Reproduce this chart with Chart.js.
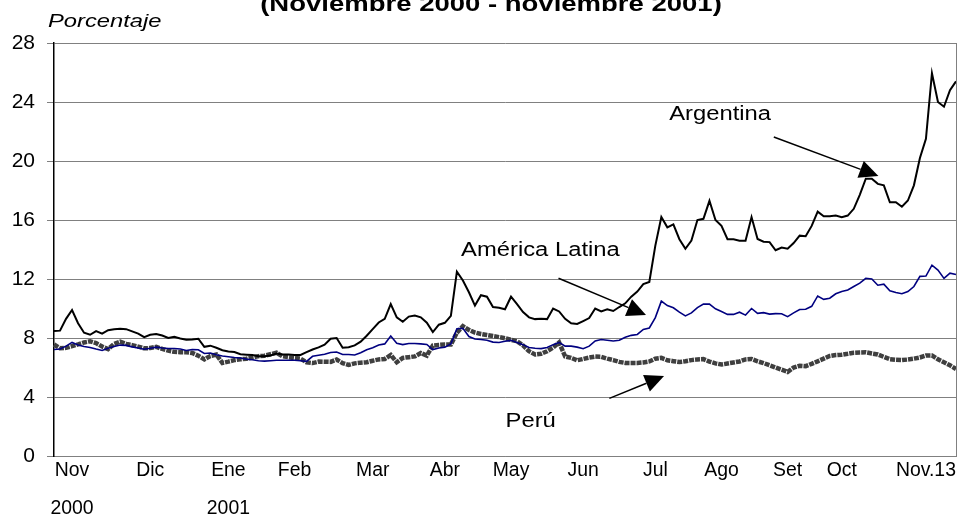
<!DOCTYPE html>
<html lang="es">
<head>
<meta charset="utf-8">
<title>Porcentaje (Noviembre 2000 - noviembre 2001)</title>
<script src="https://cdn.jsdelivr.net/npm/chart.js@4.4.0/dist/chart.umd.min.js"></script>
<style>
  html, body { margin: 0; padding: 0; background: #fff; }
  #wrap { position: relative; width: 961px; height: 526px; }
</style>
</head>
<body>
<div id="wrap"><canvas id="spreadChart"></canvas></div>
<script>
// Series diarias (lecturas del gráfico), en porcentaje
const argentina = [
  8.47, 8.5, 9.3, 9.9, 9.0, 8.36, 8.22, 8.47, 8.3, 8.53,
  8.6, 8.62, 8.6, 8.45, 8.3, 8.06, 8.22, 8.27, 8.17, 8.0,
  8.08, 7.97, 7.88, 7.9, 7.95, 7.4, 7.48, 7.34, 7.17, 7.09,
  7.05, 6.9, 6.87, 6.84, 6.76, 6.77, 6.82, 6.95, 6.88, 6.88,
  6.85, 6.85, 7.04, 7.22, 7.36, 7.55, 7.95, 8.0, 7.34, 7.37,
  7.5, 7.75, 8.15, 8.6, 9.05, 9.3, 10.3, 9.4, 9.1, 9.45,
  9.52, 9.4, 9.04, 8.4, 8.9, 9.03, 9.5, 12.5, 11.9, 11.1,
  10.2, 10.9, 10.8, 10.1, 10.05, 9.95, 10.8, 10.3, 9.76, 9.4,
  9.28, 9.3, 9.28, 10.0, 9.8, 9.3, 9.0, 8.95, 9.15, 9.35,
  10.0, 9.8, 9.95, 9.83, 10.1, 10.35, 10.8, 11.15, 11.65, 11.8,
  14.26, 16.2, 15.5, 15.7, 14.7, 14.05, 14.6, 16.0, 16.08, 17.3,
  16.0, 15.6, 14.7, 14.7, 14.6, 14.6, 16.2, 14.71, 14.53, 14.5,
  13.95, 14.13, 14.05, 14.44, 14.94, 14.9, 15.6, 16.57, 16.25, 16.25,
  16.3, 16.19, 16.3, 16.76, 17.71, 18.8, 18.8, 18.45, 18.35, 17.2,
  17.2, 16.9, 17.32, 18.35, 20.2, 21.5, 25.95, 24.0, 23.68, 24.8,
  25.4
];

const americaLatina = [
  7.22, 7.25, 7.45, 7.7, 7.52, 7.42, 7.36, 7.25, 7.15, 7.3,
  7.42, 7.52, 7.5, 7.4, 7.32, 7.24, 7.3, 7.38, 7.32, 7.29,
  7.29, 7.25, 7.15, 7.22, 7.2, 6.95, 6.98, 6.87, 6.78, 6.73,
  6.68, 6.64, 6.57, 6.52, 6.46, 6.43, 6.46, 6.49, 6.49, 6.49,
  6.49, 6.46, 6.42, 6.76, 6.83, 6.9, 7.02, 7.05, 6.88, 6.88,
  6.85, 7.0, 7.2, 7.34, 7.53, 7.6, 8.13, 7.65, 7.55, 7.63,
  7.63, 7.6, 7.56, 7.22, 7.32, 7.38, 7.6, 8.63, 8.66, 8.1,
  7.93, 7.9, 7.85, 7.72, 7.7, 7.78, 7.84, 7.7, 7.55, 7.36,
  7.3, 7.28, 7.36, 7.55, 7.7, 7.45, 7.45, 7.38, 7.27, 7.45,
  7.8, 7.9, 7.85, 7.8, 7.85, 8.05, 8.18, 8.24, 8.58, 8.68,
  9.38, 10.5, 10.2, 10.05, 9.75, 9.5, 9.7, 10.06, 10.3, 10.3,
  9.98, 9.8, 9.6, 9.6, 9.75, 9.55, 10.0, 9.67, 9.72, 9.62,
  9.65, 9.64, 9.45, 9.7, 9.93, 9.95, 10.15, 10.85, 10.62, 10.7,
  11.0, 11.15, 11.25, 11.49, 11.72, 12.05, 12.0, 11.58, 11.65, 11.2,
  11.08, 11.0, 11.15, 11.49, 12.18, 12.2, 12.94, 12.6, 12.04, 12.4,
  12.3
];

const peru = [
  7.56, 7.3, 7.33, 7.45, 7.57, 7.7, 7.78, 7.65, 7.42, 7.25,
  7.6, 7.75, 7.6, 7.52, 7.42, 7.3, 7.32, 7.4, 7.26, 7.14,
  7.06, 7.04, 7.04, 6.98, 6.8, 6.55, 6.78, 6.88, 6.31, 6.4,
  6.5, 6.56, 6.59, 6.68, 6.77, 6.8, 6.9, 7.0, 6.76, 6.7,
  6.64, 6.6, 6.35, 6.3, 6.4, 6.39, 6.38, 6.54, 6.3, 6.17,
  6.28, 6.33, 6.36, 6.46, 6.55, 6.58, 6.85, 6.36, 6.65, 6.7,
  6.75, 6.98, 6.81, 7.49, 7.53, 7.56, 7.56, 8.36, 8.8, 8.55,
  8.37, 8.27, 8.2, 8.13, 8.06, 7.98, 7.88, 7.78, 7.5, 7.1,
  6.88, 6.93, 7.1, 7.35, 7.7, 6.75, 6.65, 6.49, 6.58, 6.67,
  6.74, 6.72, 6.6, 6.5, 6.38, 6.31, 6.31, 6.31, 6.34, 6.41,
  6.6, 6.65, 6.49, 6.43, 6.37, 6.42, 6.5, 6.55, 6.57, 6.4,
  6.28, 6.2, 6.27, 6.34, 6.41, 6.55, 6.58, 6.42, 6.3, 6.15,
  6.0, 5.85, 5.7, 6.0, 6.12, 6.09, 6.25, 6.42, 6.6, 6.78,
  6.84, 6.87, 6.93, 7.0, 7.02, 7.03, 6.95, 6.88, 6.72, 6.56,
  6.52, 6.5, 6.54, 6.6, 6.68, 6.82, 6.82, 6.55, 6.35, 6.15,
  5.9
];

// Etiquetas de meses y la observación donde va cada una
const etiquetasMes = [['Nov', '2000'], ['Dic'], ['Ene', '2001'], ['Feb'], ['Mar'], ['Abr'],
  ['May'], ['Jun'], ['Jul'], ['Ago'], ['Set'], ['Oct'], ['Nov.13']];
const posMes = [3, 16, 29, 40, 53, 65, 76, 88, 100, 111, 122, 131, 145];

const yTicks = [0, 4, 8, 12, 16, 20, 24, 28];

// Notas con flecha (posición en unidades del gráfico: observación, porcentaje)
const notas = [
  { texto: 'Argentina', x: 102.3, y: 22.8, desde: [119.7, 21.63], hasta: [137.1, 18.98] },
  { texto: 'América Latina', x: 67.7, y: 13.53, desde: [83.9, 12.05], hasta: [98.45, 9.56] },
  { texto: 'Perú', x: 75.1, y: 2.0, desde: [92.35, 3.91], hasta: [101.45, 5.42] }
];

const FONT = '"Liberation Sans", Arial, Helvetica, sans-serif';

function textoEscalado(ctx, txt, x, y, sx, align) {
    ctx.save();
    ctx.translate(x, y);
    ctx.scale(sx, 1);
    ctx.textAlign = align;
    ctx.fillText(txt, 0, 0);
    ctx.restore();
}

function flecha(ctx, x0, y0, x1, y1) {
    const dx = x1 - x0, dy = y1 - y0;
    const len = Math.hypot(dx, dy);
    const ux = dx / len, uy = dy / len;
    const head = 19, half = 9;
    const bx = x1 - ux * head, by = y1 - uy * head;
    ctx.beginPath();
    ctx.moveTo(x0, y0);
    ctx.lineTo(bx, by);
    ctx.stroke();
    ctx.beginPath();
    ctx.moveTo(x1, y1);
    ctx.lineTo(bx - uy * half, by + ux * half);
    ctx.lineTo(bx + uy * half, by - ux * half);
    ctx.closePath();
    ctx.fill();
}

const decoracion = {
    id: 'decoracion',
    afterDraw(chart) {
        const { ctx, chartArea: a, scales } = chart;
        const xs = scales.x, ys = scales.y;
        ctx.save();

        // borde derecho del área
        ctx.strokeStyle = '#808080';
        ctx.lineWidth = 1;
        ctx.beginPath();
        ctx.moveTo(Math.round(a.right) + 0.5, a.top);
        ctx.lineTo(Math.round(a.right) + 0.5, a.bottom);
        ctx.stroke();

        ctx.fillStyle = '#000';
        ctx.textBaseline = 'alphabetic';

        // título (cortado arriba como en el original)
        ctx.font = 'bold 22px ' + FONT;
        textoEscalado(ctx, '(Noviembre 2000 - noviembre 2001)', 491, 11, 1.25, 'center');

        ctx.font = 'italic 19px ' + FONT;
        textoEscalado(ctx, 'Porcentaje', 48, 27, 1.25, 'left');

        // etiquetas del eje x
        ctx.font = '20px ' + FONT;
        posMes.forEach((idx, k) => {
            const px = xs.getPixelForValue(idx);
            etiquetasMes[k].forEach((linea, j) => {
                textoEscalado(ctx, linea, px, a.bottom + 20 + j * 38, 0.97, 'center');
            });
        });

        // notas y flechas
        ctx.font = '19.5px ' + FONT;
        ctx.strokeStyle = '#000';
        ctx.lineWidth = 1.5;
        notas.forEach(n => {
            textoEscalado(ctx, n.texto, xs.getPixelForValue(n.x), ys.getPixelForValue(n.y), 1.22, 'left');
            flecha(ctx,
                xs.getPixelForValue(n.desde[0]), ys.getPixelForValue(n.desde[1]),
                xs.getPixelForValue(n.hasta[0]), ys.getPixelForValue(n.hasta[1]));
        });

        ctx.restore();
    }
};

function initChart() {
    const ctx = document.getElementById('spreadChart');
    const labels = argentina.map((_, i) => i);

    new Chart(ctx, {
        type: 'line',
        data: {
            labels,
            datasets: [
                {
                    label: 'Argentina',
                    data: argentina,
                    borderColor: '#000000',
                    borderWidth: 2,
                    pointRadius: 0,
                    tension: 0
                },
                {
                    label: 'América Latina',
                    data: americaLatina,
                    borderColor: '#000080',
                    borderWidth: 1.6,
                    pointRadius: 0,
                    tension: 0
                },
                {
                    label: 'Perú',
                    data: peru,
                    borderColor: '#3f3f3f',
                    borderWidth: 4.5,
                    borderDash: [5, 1],
                    borderCapStyle: 'butt',
                    pointRadius: 0,
                    tension: 0
                }
            ]
        },
        options: {
            responsive: true,
            maintainAspectRatio: false,
            animation: false,
            layout: {
                padding: { top: 43, right: 5, left: 0, bottom: 0 }
            },
            plugins: {
                legend: { display: false },
                tooltip: { enabled: false },
                title: { display: false }
            },
            scales: {
                x: {
                    type: 'category',
                    offset: false,
                    grid: { display: false },
                    border: { display: true, color: '#808080', width: 1 },
                    ticks: { display: false },
                    afterFit(scale) { scale.height = 70; }
                },
                y: {
                    min: 0,
                    max: 28,
                    afterBuildTicks(scale) {
                        scale.ticks = yTicks.map(v => ({ value: v }));
                    },
                    grid: {
                        color: '#808080',
                        lineWidth: 1,
                        tickLength: 7,
                        drawTicks: true
                    },
                    border: { display: true, color: '#000000', width: 1.5 },
                    ticks: {
                        padding: 12,
                        color: '#000',
                        font: { family: FONT, size: 21 }
                    },
                    afterFit(scale) { scale.width = 54; }
                }
            }
        },
        plugins: [decoracion]
    });
}

if (document.readyState === 'loading') {
    document.addEventListener('DOMContentLoaded', initChart);
} else {
    initChart();
}
</script>
</body>
</html>
